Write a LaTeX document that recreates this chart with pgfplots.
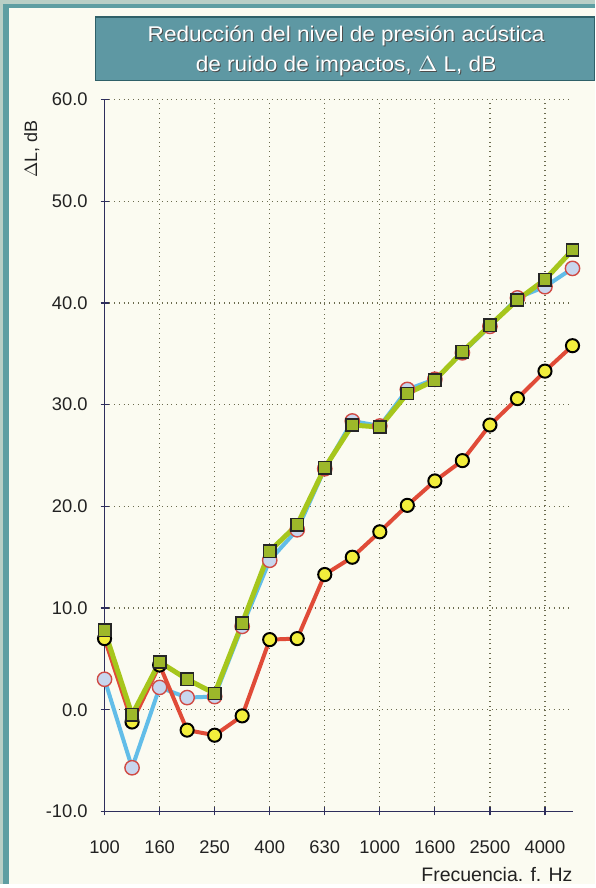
\documentclass[border=0pt]{standalone}
\usepackage{fontspec}
\setmainfont{Liberation Sans}
\usepackage{pgfplots}
\usepackage{pgfplotstable}
\pgfplotsset{compat=1.18}
\definecolor{cream}{HTML}{FBFBF1}
\definecolor{framelight}{HTML}{B9CFC6}
\definecolor{frameteal}{HTML}{5E9EA2}
\definecolor{titlefill}{HTML}{5E98A3}
\definecolor{titleedge}{HTML}{2F6068}
\definecolor{axisblue}{HTML}{2E2E5C}
\definecolor{gridc}{HTML}{6B6B4E}
\definecolor{textc}{HTML}{222222}
\definecolor{blueline}{HTML}{62BDE8}
\definecolor{bluefill}{HTML}{C8D6EE}
\definecolor{bluedraw}{HTML}{D04A44}
\definecolor{greenline}{HTML}{A6C61C}
\definecolor{greenfill}{HTML}{9DB82A}
\definecolor{redline}{HTML}{E04B38}
\definecolor{yellowfill}{HTML}{F2EE3C}

% idx: 100 125 160 200 250 315 400 500 630 800 1000 1250 1600 2000 2500 3150 4000 5000
\pgfplotstableread{
idx blue green red
0   3.0   7.8   7.0
1  -5.7  -0.5  -1.2
2   2.2   4.7   4.4
3   1.2   3.0  -2.0
4   1.3   1.6  -2.5
5   8.2   8.5  -0.6
6  14.7  15.6   6.9
7  17.7  18.2   7.0
8  23.7  23.8  13.3
9  28.4  28.0  15.0
10 27.9  27.8  17.5
11 31.5  31.1  20.1
12 32.5  32.4  22.5
13 35.1  35.2  24.5
14 37.7  37.8  28.0
15 40.5  40.3  30.6
16 41.6  42.3  33.3
17 43.4  45.2  35.8
}\datatable

\begin{document}
\begin{tikzpicture}
% page background and frame
\fill[cream] (0,0) rectangle (299pt,-444pt);
\fill[framelight] (0,0) rectangle (299pt,-2pt);
\fill[framelight] (0,0) rectangle (1.5pt,-444pt);
\fill[frameteal] (1.5pt,-2pt) rectangle (4.5pt,-444pt);
\fill[frameteal] (1.5pt,-2pt) rectangle (299pt,-4pt);
% title box
\draw[titleedge, fill=titlefill, line width=0.6pt] (48pt,-8.5pt) rectangle (298.5pt,-40.5pt);
\foreach \yy/\txt in {-17.8pt/{Reducción del nivel de presión acústica}, -33.2pt/{de ruido de impactos, $\Delta$ L, dB}}{
  \node[text=black!70, font=\fontsize{10.7}{12}\selectfont, xscale=1.06] at (174.3pt,\yy-0.5pt) {\txt};
  \node[text=white, font=\fontsize{10.7}{12}\selectfont, xscale=1.06] at (173.8pt,\yy) {\txt};
}
% axis labels
\node[rotate=90, text=textc, font=\fontsize{9}{10}\selectfont] at (16pt,-75pt) {$\Delta$L, dB};
\node[anchor=east, text=textc, font=\fontsize{9.8}{12}\selectfont] at (291pt,-439pt) {Frecuencia. f. Hz};

\begin{axis}[
  scale only axis, width=235pt, height=357.5pt,
  at={(52.5pt,-407.5pt)}, anchor=south west,
  xmin=0, xmax=17, ymin=-10, ymax=60,
  axis lines=left, axis line style={-, color=axisblue, line width=0.7pt},
  xtick={0,2,...,16}, xticklabels={100,160,250,400,630,1000,1600,2500,4000},
  ytick={-10,0,...,60},
  y tick label style={/pgf/number format/fixed, /pgf/number format/fixed zerofill, /pgf/number format/precision=1},
  /pgf/number format/assume math mode=true,
  tick align=center, major tick length=4pt,
  tick style={color=axisblue, line width=0.6pt},
  grid=major, major grid style={dotted, color=gridc, line width=0.6pt},
  ticklabel style={font=\fontsize{9.2}{10}\selectfont, text=textc},
  xticklabel style={yshift=-9pt},
  yticklabel style={xshift=-3pt},
  clip=false,
]
\addplot[blueline, line width=2pt, mark=*, mark size=3.6pt,
  mark options={fill=bluefill, draw=bluedraw, line width=0.7pt}]
  table[x=idx, y=blue] {\datatable};
\addplot[redline, line width=2pt, mark=*, mark size=3.3pt,
  mark options={fill=yellowfill, draw=black, line width=1pt}]
  table[x=idx, y=red] {\datatable};
\addplot[greenline, line width=2.5pt, mark=square*, mark size=3.1pt,
  mark options={fill=greenfill, draw=black!85, line width=0.8pt}]
  table[x=idx, y=green] {\datatable};
\end{axis}
\end{tikzpicture}
\end{document}
